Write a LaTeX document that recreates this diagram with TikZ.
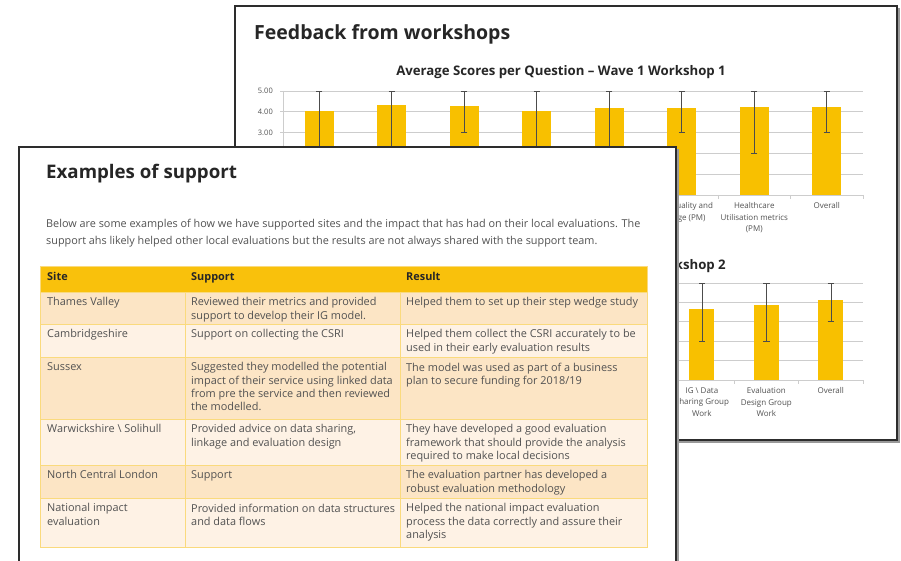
\documentclass[tikz,border=0pt]{standalone}
\usepackage{fontspec}
\setmainfont{Open Sans}
\usetikzlibrary{positioning}

\definecolor{baryellow}{RGB}{248,192,0}
\definecolor{headyellow}{RGB}{249,193,12}
\definecolor{rowdark}{RGB}{252,229,197}
\definecolor{rowlight}{RGB}{254,242,229}
\definecolor{cellline}{RGB}{250,218,125}
\definecolor{gridgray}{RGB}{205,205,205}
\definecolor{textgray}{RGB}{82,82,82}
\definecolor{titlegray}{RGB}{38,38,38}
\definecolor{framegray}{RGB}{45,45,45}

\begin{document}
\begin{tikzpicture}[x=1pt,y=-1pt]
\tikzset{
  slide/.style={draw=framegray, line width=1.5pt, fill=white},
  slideshadow/.style={fill=black!40},
  slidetitle/.style={anchor=base west, inner sep=0pt, text=titlegray, font=\fontsize{19.5}{22}\selectfont\bfseries},
  charttitle/.style={anchor=base, inner sep=0pt, text=titlegray, font=\fontsize{13.2}{15}\selectfont\bfseries},
  ylab/.style={anchor=east, inner sep=0pt, text=textgray, font=\fontsize{7.5}{9}\selectfont},
  catlab/.style={anchor=north, inner sep=0pt, align=center, text=textgray, font=\fontsize{8}{11.5}\selectfont},
  gridline/.style={draw=gridgray, line width=0.8pt},
  bar/.style={fill=baryellow},
  errbar/.style={draw=black!70, line width=0.6pt, |-|},
  para/.style={anchor=north west, inner sep=0pt, align=left, text=textgray, font=\fontsize{10.85}{17}\selectfont},
  cell/.style={anchor=north west, inner sep=0pt, align=left, text=textgray, font=\fontsize{10.9}{13.3}\selectfont},
  headcell/.style={cell, text=titlegray, font=\fontsize{10.9}{13.3}\selectfont\bfseries},
}
\useasboundingbox (0,0) rectangle (901,561);

% 后面的幻灯片
\fill[slideshadow] (237.5,8.5) rectangle (899.5,442.5);
\draw[slide] (235,6) rectangle (897,440);
\node[slidetitle] (fbtitle) at (254,39.5) {Feedback from workshops};

% 第一个图表
\node[charttitle] (waveone) at (561,76) {Average Scores per Question -- Wave 1 Workshop 1};
\draw[gridline] (280,91) -- (863,91);
\draw[gridline] (280,111.8) -- (863,111.8);
\draw[gridline] (280,132.6) -- (863,132.6);
\draw[gridline] (280,153.4) -- (863,153.4);
\draw[gridline] (280,174.2) -- (863,174.2);
\draw[gridline] (280,195) -- (863,195);
\draw[gridline] (283,91) -- (283,195);
\foreach \t in {283,355.5,428,500.5,573,645.5,718,790.5,863}
  \draw[gridline] (\t,195) -- (\t,199);
\node[ylab] (yfive) at (273,91) {5.00};
\node[ylab] (yfour) at (273,111.8) {4.00};
\node[ylab] (ythree) at (273,132.6) {3.00};

\fill[bar] (304.75,195) rectangle (333.75,110.8);
\fill[bar] (377.25,195) rectangle (406.25,104.9);
\fill[bar] (449.75,195) rectangle (478.75,106.2);
\fill[bar] (522.25,195) rectangle (551.25,111.4);
\fill[bar] (594.75,195) rectangle (623.75,108.1);
\fill[bar] (667.25,195) rectangle (696.25,108.1);
\fill[bar] (739.75,195) rectangle (768.75,107.2);
\fill[bar] (812.25,195) rectangle (841.25,106.6);

\draw[errbar] (319.25,91) -- (319.25,153.4);
\draw[errbar] (391.75,91) -- (391.75,153.4);
\draw[errbar] (464.25,91) -- (464.25,132.6);
\draw[errbar] (536.75,91) -- (536.75,153.4);
\draw[errbar] (609.25,91) -- (609.25,153.4);
\draw[errbar] (681.75,91) -- (681.75,132.6);
\draw[errbar] (754.25,91) -- (754.25,153.4);
\draw[errbar] (826.75,91) -- (826.75,132.6);

\node[catlab] (qualpm) at (681.75,202.5) {Data Quality and\\Linkage (PM)};
\node[catlab] (healthpm) at (754.25,202.5) {Healthcare\\Utilisation metrics\\(PM)};
\node[catlab] (overallone) at (826.75,202.5) {Overall};

% 第二个图表
\node[charttitle] (wavetwo) at (561,269) {Average Scores per Question -- Wave 1 Workshop 2};
\draw[gridline] (283,283) -- (863,283);
\draw[gridline] (283,302.4) -- (863,302.4);
\draw[gridline] (283,321.8) -- (863,321.8);
\draw[gridline] (283,341.2) -- (863,341.2);
\draw[gridline] (283,360.6) -- (863,360.6);
\draw[gridline] (283,380) -- (863,380);
\foreach \t in {669.7,734.1,798.6,863}
  \draw[gridline] (\t,380) -- (\t,384);

\fill[bar] (689.4,380) rectangle (714.4,309.1);
\fill[bar] (753.8,380) rectangle (778.8,305.4);
\fill[bar] (818.3,380) rectangle (843.3,300.2);
\draw[errbar] (701.9,283) -- (701.9,341.2);
\draw[errbar] (766.3,283) -- (766.3,341.2);
\draw[errbar] (830.8,283) -- (830.8,321.8);

\node[catlab] (igdata) at (701.9,387.5) {IG \textbackslash{} Data\\Sharing Group\\Work};
\node[catlab] (evaldesign) at (766.3,387.5) {Evaluation\\Design Group\\Work};
\node[catlab] (overalltwo) at (830.8,387.5) {Overall};

% 前面的幻灯片
\fill[slideshadow] (21.5,149.5) rectangle (678.5,575);
\draw[slide] (19,147) rectangle (676,575);
\node[slidetitle, font=\fontsize{18.7}{21}\selectfont\bfseries] (extitle) at (46,178.5) {Examples of support};
\node[para] (intro) at (46,219) {Below are some examples of how we have supported sites and the impact that has had on their local evaluations. The\\support ahs likely helped other local evaluations but the results are not always shared with the support team.};

% 表格
\fill[headyellow] (40,266) rectangle (647,292);
\fill[rowdark] (40,292) rectangle (647,324);
\fill[rowlight] (40,324) rectangle (647,357);
\fill[rowdark] (40,357) rectangle (647,419);
\fill[rowlight] (40,419) rectangle (647,465);
\fill[rowdark] (40,465) rectangle (647,498);
\fill[rowlight] (40,498) rectangle (647,547);
\draw[cellline, line width=0.8pt] (40,292) -- (647,292) (40,324) -- (647,324) (40,357) -- (647,357)
  (40,419) -- (647,419) (40,465) -- (647,465) (40,498) -- (647,498)
  (185,292) -- (185,547) (400,292) -- (400,547);
\draw[cellline, line width=1pt] (40,266) rectangle (647,547);

\node[headcell] (hsite) at (47,272) {Site};
\node[headcell] (hsupport) at (191,272) {Support};
\node[headcell] (hresult) at (406,272) {Result};

\node[cell] (siteone) at (47,297.5) {Thames Valley};
\node[cell] (suppone) at (191,297.5) {Reviewed their metrics and provided\\support to develop their IG model.};
\node[cell] (resone) at (406,297.5) {Helped them to set up their step wedge study};

\node[cell] (sitetwo) at (47,329.5) {Cambridgeshire};
\node[cell] (supptwo) at (191,329.5) {Support on collecting the CSRI};
\node[cell] (restwo) at (406,329.5) {Helped them collect the CSRI accurately to be\\used in their early evaluation results};

\node[cell] (sitethree) at (47,362.5) {Sussex};
\node[cell] (suppthree) at (191,362.5) {Suggested they modelled the potential\\impact of their service using linked data\\from pre the service and then reviewed\\the modelled.};
\node[cell] (resthree) at (406,362.5) {The model was used as part of a business\\plan to secure funding for 2018/19};

\node[cell] (sitefour) at (47,424.5) {Warwickshire \textbackslash{} Solihull};
\node[cell] (suppfour) at (191,424.5) {Provided advice on data sharing,\\linkage and evaluation design};
\node[cell] (resfour) at (406,424.5) {They have developed a good evaluation\\framework that should provide the analysis\\required to make local decisions};

\node[cell] (sitefive) at (47,470.5) {North Central London};
\node[cell] (suppfive) at (191,470.5) {Support};
\node[cell] (resfive) at (406,470.5) {The evaluation partner has developed a\\robust evaluation methodology};

\node[cell] (sitesix) at (47,503.5) {National impact\\evaluation};
\node[cell] (suppsix) at (191,503.5) {Provided information on data structures\\and data flows};
\node[cell] (ressix) at (406,503.5) {Helped the national impact evaluation\\process the data correctly and assure their\\analysis};

\end{tikzpicture}
\end{document}
